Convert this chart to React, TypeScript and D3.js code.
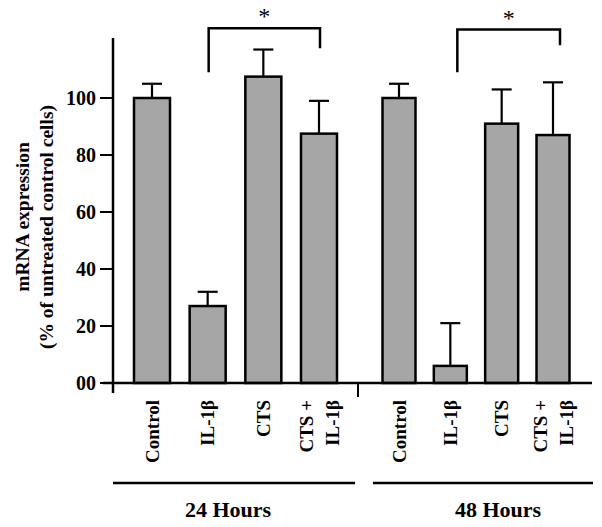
import React from 'react';
import * as d3 from 'd3';

// chart values
const categories = ['Control', 'IL-1β', 'CTS', 'CTS + IL-1β'];
const hours24Values = [100, 27, 107.5, 87.5];
const hours24ErrorTop = [105, 32, 117, 99];
const hours48Values = [100, 6, 91, 87];
const hours48ErrorTop = [105, 21, 103, 105.5];
const groupLabels = ['24 Hours', '48 Hours'];
const yTicks = [0, 20, 40, 60, 80, 100];
const yTickLabels = ['00', '20', '40', '60', '80', '100'];
// significance brackets: [from index, to index, top, left leg end, right leg end]
const brackets24 = [1, 3, 124.5, 109, 117.5];
const brackets48 = [1, 3, 124, 109, 118.5];

const FONT = '"Liberation Serif", "Times New Roman", serif';
const FILL = '#a6a6a6';

const App = () => {
  const width = 602;
  const height = 527;

  const y = d3.scaleLinear().domain([0, 100]).range([383, 98]);
  const x24 = d3.scalePoint<string>().domain(categories).range([152, 319]);
  const x48 = d3.scalePoint<string>().domain(categories).range([399, 553]);

  const groups = [
    { label: groupLabels[0], x: x24, values: hours24Values, err: hours24ErrorTop, barW: 36, line: [113, 355], labelX: 228, br: brackets24, brDx: 1 },
    { label: groupLabels[1], x: x48, values: hours48Values, err: hours48ErrorTop, barW: 33, line: [373, 593], labelX: 498, br: brackets48, brDx: 7 },
  ];

  const axisX = 113;
  const base = y(0);

  return (
    <svg width={width} height={height} style={{ position: 'absolute', left: 0, top: 0 }}>
      <rect width={width} height={height} fill="#fff" />

      {/* y axis */}
      <line x1={axisX} x2={axisX} y1={38} y2={393} stroke="#000" strokeWidth={2.5} />
      {yTicks.map((t, i) => (
        <g key={t}>
          <line x1={100} x2={axisX} y1={y(t)} y2={y(t)} stroke="#000" strokeWidth={2} />
          <text x={96} y={y(t)} dy="0.35em" textAnchor="end" fontFamily={FONT} fontWeight="bold" fontSize={20}>
            {yTickLabels[i]}
          </text>
        </g>
      ))}

      {/* y title */}
      <g transform="translate(22,217) rotate(-90)">
        <text textAnchor="middle" dy="0.35em" fontFamily={FONT} fontWeight="bold" fontSize={19.5}>mRNA expression</text>
      </g>
      <g transform="translate(46,227) rotate(-90)">
        <text textAnchor="middle" dy="0.35em" fontFamily={FONT} fontWeight="bold" fontSize={19.5}>(% of untreated control cells)</text>
      </g>

      {groups.map((g, gi) => (
        <g key={gi}>
          {categories.map((c, i) => {
            const cx = g.x(c) as number;
            const top = y(g.values[i]);
            const et = y(g.err[i]);
            return (
              <g key={c}>
                <line x1={cx} x2={cx} y1={top} y2={et} stroke="#000" strokeWidth={2.2} />
                <line x1={cx - 10} x2={cx + 10} y1={et} y2={et} stroke="#000" strokeWidth={2.2} />
                <rect x={cx - g.barW / 2} y={top} width={g.barW} height={base - top} fill={FILL} stroke="#000" strokeWidth={2.5} />
              </g>
            );
          })}

          {/* category labels */}
          {categories.map((c) => {
            const cx = g.x(c) as number;
            const parts = c === 'CTS + IL-1β' ? ['CTS +', 'IL-1β'] : [c];
            return parts.map((p, pi) => {
              const off = parts.length > 1 ? (pi === 0 ? -13 : 13) : 0;
              return (
                <text
                  key={c + pi}
                  transform={`translate(${cx + off},400) rotate(-90)`}
                  textAnchor="end"
                  dy="0.35em"
                  fontFamily={FONT}
                  fontWeight="bold"
                  fontSize={19}
                >
                  {p}
                </text>
              );
            });
          })}

          {/* group underline & label */}
          <line x1={g.line[0]} x2={g.line[1]} y1={483} y2={483} stroke="#000" strokeWidth={2.5} />
          <text x={g.labelX} y={517} textAnchor="middle" fontFamily={FONT} fontWeight="bold" fontSize={22}>
            {g.label}
          </text>

          {/* significance bracket */}
          {(() => {
            const xa = (g.x(categories[g.br[0]]) as number) + g.brDx;
            const xb = (g.x(categories[g.br[1]]) as number) + g.brDx;
            const yt = y(g.br[2]);
            return (
              <g>
                <path
                  d={`M${xa},${y(g.br[3])}V${yt}H${xb}V${y(g.br[4])}`}
                  fill="none"
                  stroke="#000"
                  strokeWidth={2.5}
                />
                <text x={(xa + xb) / 2} y={yt - 4} textAnchor="middle" fontFamily={FONT} fontSize={24}>*</text>
              </g>
            );
          })()}
        </g>
      ))}

      {/* baseline and group separator */}
      <line x1={103} x2={592} y1={base} y2={base} stroke="#000" strokeWidth={2.5} />
      <line x1={358} x2={358} y1={base} y2={397} stroke="#000" strokeWidth={2} />
    </svg>
  );
};

export default App;
